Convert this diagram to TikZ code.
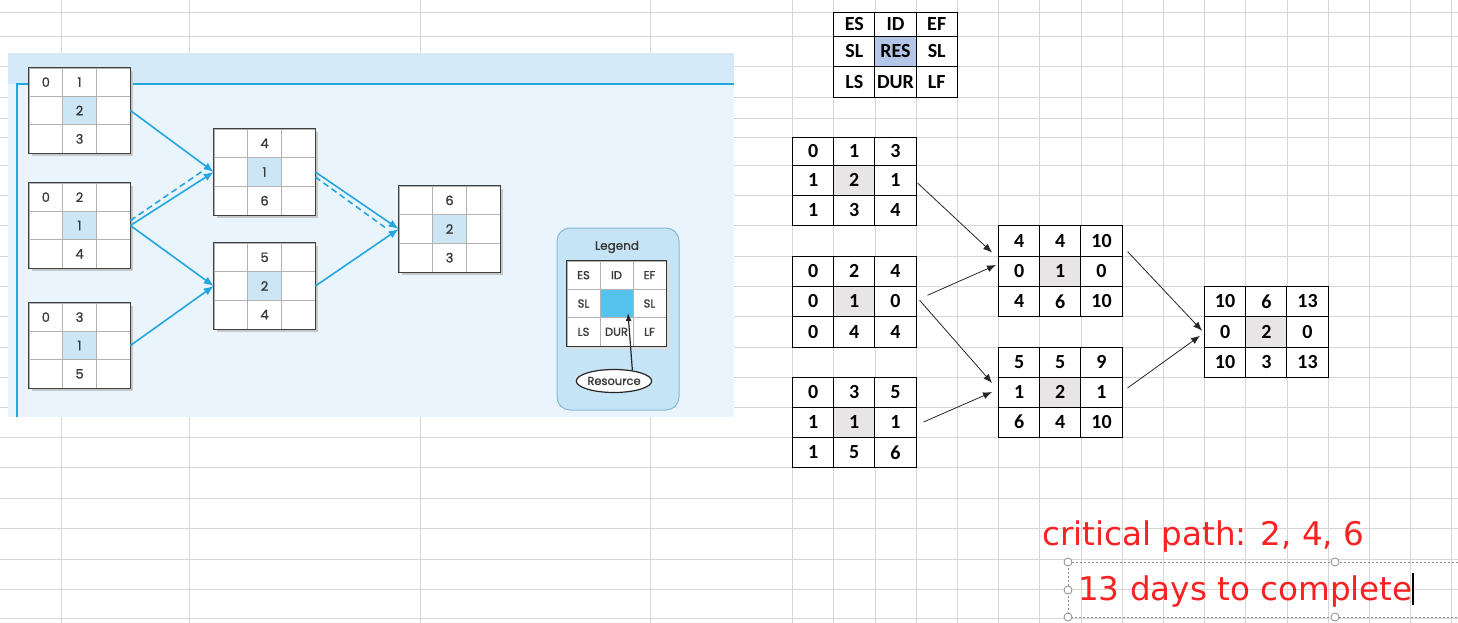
\documentclass[tikz,border=0pt]{standalone}
\usepackage{fontspec}
\setmainfont{Carlito}
\newfontfamily\panelfont[FakeBold=1.2]{Poppins}
\newfontfamily\notefont{DejaVu Sans}
\usepackage{tikz}
\usetikzlibrary{arrows.meta}
\usetikzlibrary{shapes.geometric}

\definecolor{sheetline}{HTML}{D6D6D6}
\definecolor{paneltop}{HTML}{D4EAF8}
\definecolor{panelbody}{HTML}{E9F4FC}
\definecolor{panelline}{HTML}{22A7E0}
\definecolor{bkmid}{HTML}{CCE6F5}
\definecolor{lgfill}{HTML}{C5E4F6}
\definecolor{lgedge}{HTML}{8AB8D3}
\definecolor{lgmid}{HTML}{56C2EE}
\definecolor{cellgray}{HTML}{E7E5E5}
\definecolor{resblue}{HTML}{B4C6E7}
\definecolor{darktxt}{HTML}{3A3A3A}
\definecolor{notered}{HTML}{F82222}

\tikzset{
  sheetrule/.style={draw=sheetline, line width=0.8pt},
  xl cell/.style={draw=black, line width=0.9pt, fill=white, inner sep=0pt,
    font=\bfseries\fontsize{20}{24}\selectfont},
  xl mid/.style={fill=cellgray},
  xl shadow/.style={},
  xl frame/.style={},
  key cell/.style={xl cell},
  key mid/.style={fill=resblue},
  key shadow/.style={},
  key frame/.style={},
  bk cell/.style={draw=black!30, line width=0.6pt, fill=white, inner sep=0pt,
    text=darktxt, font=\panelfont\fontsize{13}{15}\selectfont},
  bk mid/.style={fill=bkmid},
  bk shadow/.style={fill=black!22},
  bk frame/.style={draw=black!75, line width=1.4pt},
  lg cell/.style={bk cell, font=\panelfont\fontsize{11.5}{13}\selectfont},
  lg mid/.style={fill=lgmid},
  lg shadow/.style={fill=black!14},
  lg frame/.style={draw=black!80, line width=1.4pt},
  bluearrow/.style={draw=panelline, line width=1.6pt, -{Latex[length=10pt,width=8pt]}},
  bluedash/.style={draw=panelline, line width=1.6pt, dash pattern=on 6pt off 4pt},
  sheetarrow/.style={draw=black!85, line width=0.8pt, -{Latex[length=9pt,width=7pt]}},
  legendbox/.style={draw=lgedge, line width=1pt, fill=lgfill, rounded corners=13pt},
  panellabel/.style={text=darktxt, font=\panelfont\fontsize{12}{14}\selectfont},
  resource/.style={ellipse, draw=black!85, line width=1.2pt, fill=white, inner sep=0pt,
    minimum width=75, minimum height=23, text=darktxt, font=\panelfont\fontsize{11.5}{13}\selectfont},
  note/.style={text=notered, inner sep=0pt, font=\notefont\fontsize{32.6}{36}\selectfont},
  boxdots/.style={draw=black!45, line width=0.8pt, dash pattern=on 2pt off 2pt},
  handle/.style={draw=black!45, line width=0.8pt, fill=white},
}

% 3x3 grid: style prefix, name, left, cell width, four row lines, nine values
\newcommand{\cellgrid}[9]{%
  \path[#1 shadow] ({#3+3},{#5+3}) rectangle ({#3+3*#4+3},{#8+3});
  \foreach \v [count=\k from 0] in {#9} {
    \pgfmathtruncatemacro{\rw}{div(\k,3)+1}
    \pgfmathtruncatemacro{\cl}{mod(\k,3)+1}
    \ifcase\rw\or\def\yt{#5}\def\yb{#6}\or\def\yt{#6}\def\yb{#7}\or\def\yt{#7}\def\yb{#8}\fi
    \ifnum\k=4
      \node[#1 cell, #1 mid, minimum width=#4, minimum height={\yb-\yt}]
        (#2-\rw-\cl) at ({#3+(\cl-0.5)*#4},{(\yt+\yb)/2}) {\v};
    \else
      \node[#1 cell, minimum width=#4, minimum height={\yb-\yt}]
        (#2-\rw-\cl) at ({#3+(\cl-0.5)*#4},{(\yt+\yb)/2}) {\v};
    \fi
  }
  \path[#1 frame] (#2-1-1.north west) rectangle (#2-3-3.south east);
}

\begin{document}
\begin{tikzpicture}[x=1pt,y=-1pt]
  \useasboundingbox (0,0) rectangle (1458,623);
  \fill[white] (0,0) rectangle (1458,623);

  % spreadsheet cells
  \foreach \gx in {61,189,420,650,792.5,833.7,874.9,916.1,957.3,998.5,1039.7,1080.9,
                   1122.1,1163.3,1204.5,1245.7,1286.9,1328.1,1369.3,1410.5,1451.7}
    \draw[sheetrule] (\gx,0) -- (\gx,623);
  \foreach \gy in {12,36,66.5,97,118,137,165,195,225.5,256,286,316.5,347,377,407,437,
                   467.5,498,528.5,559,589,618.5}
    \draw[sheetrule] (0,\gy) -- (1458,\gy);

  % pasted textbook figure
  \fill[panelbody] (8,53) rectangle (734,417);
  \fill[paneltop] (8,53) rectangle (734,84);
  \draw[panelline, line width=2.2pt] (17,417) -- (17,84) -- (734,84);

  \cellgrid{bk}{L1}{29}{33.7}{68}{96.3}{124.7}{153}{0,1,{},{},2,{},{},3,{}}
  \cellgrid{bk}{L2}{29}{33.7}{183}{211.3}{239.7}{268}{0,2,{},{},1,{},{},4,{}}
  \cellgrid{bk}{L3}{29}{33.7}{303}{331.3}{359.7}{388}{0,3,{},{},1,{},{},5,{}}
  \cellgrid{bk}{LA}{214}{33.7}{129}{157.7}{186.3}{215}{{},4,{},{},1,{},{},6,{}}
  \cellgrid{bk}{LB}{214}{33.7}{243}{271.7}{300.3}{329}{{},5,{},{},2,{},{},4,{}}
  \cellgrid{bk}{LR}{399}{33.7}{186}{214.7}{243.3}{272}{{},6,{},{},2,{},{},3,{}}

  \draw[bluearrow] (L1-2-3.east) -- (LA-2-1.west);
  \draw[bluedash] ([yshift=5pt]L2-2-3.east) -- ([xshift=-11pt,yshift=1pt]LA-2-1.west);
  \draw[bluearrow] (L2-2-3.east) -- (LA-2-1.west);
  \draw[bluearrow] (L2-2-3.east) -- (LB-2-1.west);
  \draw[bluearrow] (L3-2-3.east) -- (LB-2-1.west);
  \draw[bluearrow] (LA-2-3.east) -- (LR-2-1.west);
  \draw[bluedash] ([yshift=-5pt]LA-2-3.east) -- ([xshift=-13pt,yshift=1pt]LR-2-1.west);
  \draw[bluearrow] (LB-2-3.east) -- (LR-2-1.west);

  \node[legendbox, minimum width=122, minimum height=182] (legend) at (618,319) {};
  \node[panellabel] (legendtitle) at (617,247) {Legend};
  \cellgrid{lg}{LG}{567}{33}{261}{289.3}{317.7}{346}{ES,ID,EF,SL,{},SL,LS,DUR,LF}
  \node[resource] (res) at (614,381) {Resource};
  \coordinate (restip) at (628,313);
  \draw[draw=black!85, line width=1.2pt, -{Latex[length=8pt,width=6pt]}] (res.30) -- (restip);

  % worked network
  \cellgrid{key}{KEY}{833.7}{41.2}{12}{36}{66.5}{97}{ES,ID,EF,SL,RES,SL,LS,DUR,LF}
  \cellgrid{xl}{G1}{792.5}{41.2}{137}{165}{195}{225.5}{0,1,3,1,2,1,1,3,4}
  \cellgrid{xl}{G2}{792.5}{41.2}{256}{286}{316.5}{347}{0,2,4,0,1,0,0,4,4}
  \cellgrid{xl}{G3}{792.5}{41.2}{377}{407}{437}{467.5}{0,3,5,1,1,1,1,5,6}
  \cellgrid{xl}{G4}{998.5}{41.2}{225.5}{256}{286}{316.5}{4,4,10,0,1,0,4,6,10}
  \cellgrid{xl}{G5}{998.5}{41.2}{347}{377}{407}{437}{5,5,9,1,2,1,6,4,10}
  \cellgrid{xl}{G6}{1204.5}{41.2}{286}{316.5}{347}{377}{10,6,13,0,2,0,10,3,13}

  \draw[sheetarrow] ([xshift=1pt,yshift=-3pt]G1-2-3.east) -- ([xshift=-6pt,yshift=3pt]G4-2-1.north west);
  \draw[sheetarrow] ([xshift=11pt,yshift=6pt]G2-2-3.east) -- ([xshift=-2pt,yshift=6pt]G4-2-1.west);
  \draw[sheetarrow] ([xshift=3pt,yshift=1pt]G2-2-3.east) -- ([xshift=-6pt,yshift=9pt]G5-2-1.west);
  \draw[sheetarrow] ([xshift=7pt]G3-2-3.east) -- ([xshift=-6pt]G5-2-1.west);
  \draw[sheetarrow] ([xshift=5pt,yshift=4pt]G4-2-3.north east) -- ([xshift=-2pt,yshift=1pt]G6-2-1.west);
  \draw[sheetarrow] ([xshift=5pt,yshift=4pt]G5-2-3.east) -- ([xshift=-4pt,yshift=-4pt]G6-2-1.west);

  % notes
  \node[note, anchor=base west] (crit) at (1042,545) {critical path: 2, 4, 6};
  \draw[boxdots] (1458,562) -- (1068,562) -- (1068,617) -- (1458,617);
  \foreach \hx/\hy in {1068/562,1335/562,1068/590,1068/617,1335/617}
    \draw[handle] (\hx,\hy) circle [radius=4pt];
  \node[note, anchor=base west] (days) at (1078,600) {13 days to complete};
  \draw[line width=1.2pt] (days.east |- 0,573) -- (days.east |- 0,605);
\end{tikzpicture}
\end{document}
